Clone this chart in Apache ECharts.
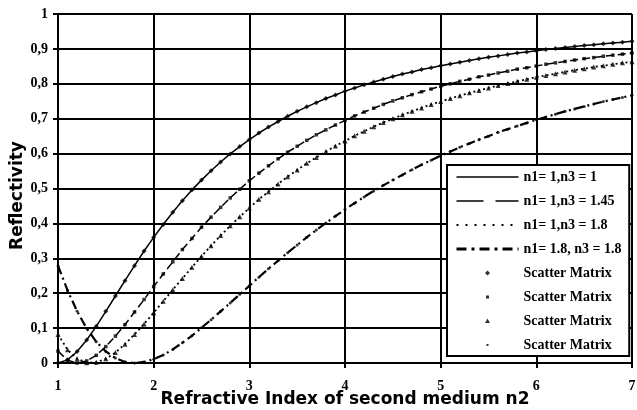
<!DOCTYPE html>
<html><head><meta charset="utf-8">
<script src="https://cdn.jsdelivr.net/npm/echarts/dist/echarts.min.js"></script>
<style>html,body{margin:0;padding:0;background:#fff}#c{width:637px;height:410px}</style>
</head><body><div id="c"></div>
<script>
// Refractive index of second medium (x)
const n2 = [1.0,1.1,1.2,1.3,1.4,1.5,1.6,1.7,1.8,1.9,
  2.0,2.1,2.2,2.3,2.4,2.5,2.6,2.7,2.8,2.9,
  3.0,3.1,3.2,3.3,3.4,3.5,3.6,3.7,3.8,3.9,
  4.0,4.1,4.2,4.3,4.4,4.5,4.6,4.7,4.8,4.9,
  5.0,5.1,5.2,5.3,5.4,5.5,5.6,5.7,5.8,5.9,
  6.0,6.1,6.2,6.3,6.4,6.5,6.6,6.7,6.8,6.9,7.0];
// Reflectivity, n1=1, n3=1
const rA = [0,0.009,0.033,0.066,0.105,0.148,0.192,0.236,0.279,0.321,
  0.360,0.397,0.432,0.465,0.496,0.524,0.551,0.576,0.599,0.620,
  0.640,0.659,0.676,0.692,0.707,0.721,0.734,0.746,0.758,0.768,
  0.779,0.788,0.797,0.805,0.813,0.821,0.828,0.834,0.841,0.846,
  0.852,0.857,0.862,0.867,0.872,0.876,0.880,0.884,0.888,0.891,
  0.895,0.898,0.901,0.904,0.907,0.910,0.912,0.915,0.917,0.919,0.922];
// n1=1, n3=1.45
const rB = [0.034,0.008,0.000,0.006,0.022,0.047,0.077,0.110,0.146,0.182,
  0.219,0.255,0.290,0.325,0.357,0.389,0.418,0.446,0.473,0.498,
  0.522,0.544,0.565,0.585,0.604,0.621,0.638,0.654,0.668,0.682,
  0.695,0.708,0.719,0.730,0.741,0.751,0.760,0.769,0.777,0.785,
  0.793,0.800,0.807,0.813,0.820,0.825,0.831,0.836,0.842,0.846,
  0.851,0.856,0.860,0.864,0.868,0.872,0.875,0.879,0.882,0.885,0.888];
// n1=1, n3=1.8
const rC = [0.082,0.038,0.012,0.001,0.002,0.012,0.030,0.054,0.082,0.112,
  0.144,0.177,0.210,0.242,0.274,0.306,0.336,0.365,0.393,0.419,
  0.444,0.469,0.491,0.513,0.534,0.553,0.572,0.589,0.606,0.622,
  0.636,0.651,0.664,0.677,0.689,0.700,0.711,0.721,0.731,0.741,
  0.749,0.758,0.766,0.774,0.781,0.788,0.795,0.801,0.807,0.813,
  0.819,0.824,0.829,0.834,0.839,0.843,0.848,0.852,0.856,0.860,0.863];
// n1=1.8, n3=1.8
const rD = [0.279,0.208,0.148,0.099,0.061,0.033,0.014,0.003,0.000,0.003,
  0.011,0.023,0.039,0.058,0.078,0.101,0.124,0.148,0.172,0.197,
  0.221,0.246,0.270,0.293,0.316,0.338,0.360,0.381,0.401,0.421,
  0.440,0.458,0.476,0.493,0.509,0.524,0.539,0.554,0.568,0.581,
  0.594,0.606,0.618,0.629,0.640,0.650,0.661,0.670,0.679,0.688,
  0.697,0.705,0.713,0.721,0.728,0.735,0.742,0.749,0.755,0.761,0.767];

const lineNames = ['n1= 1,n3 = 1','n1= 1,n3 = 1.45','n1= 1,n3 = 1.8','n1= 1.8, n3 = 1.8'];
const scatterNames = ['Scatter Matrix','Scatter Matrix ','Scatter Matrix  ','Scatter Matrix   '];
const xTitle = 'Refractive Index of second medium n2';
const yTitle = 'Reflectivity';

const curves = [rA, rB, rC, rD];
const pts = arr => n2.map((x, i) => [x, arr[i]]);

const lineStyles = [
  {type:'solid', width:1.5},
  {type:[8,4], width:1.5},
  {type:[2,3], width:1.8},
  {type:[9,4,2,4], width:2.2}
];
const legendLineStyles = [
  {type:'solid', width:1.5},
  {type:[27,12], width:1.5},
  {type:[2,7], width:2},
  {type:[10,5,3,5], width:3}
];
const markerSymbols = ['diamond','rect','triangle','circle'];
const markerSizes = [5,3.5,5,3];
const legendIcons = [
  'path://M0,0M14,14M7,4.5L9.5,7L7,9.5L4.5,7Z',
  'path://M0,0M14,14M5.5,5.5L8.5,5.5L8.5,8.5L5.5,8.5Z',
  'path://M0,0M14,14M7,4.5L9.5,9L4.5,9Z',
  'path://M0,0M14,14M6,6L8,6L8,8L6,8Z'
];

const series = [];
curves.forEach((c, i) => {
  series.push({
    name: lineNames[i], type:'line', data: pts(c), symbol:'none',
    lineStyle: Object.assign({color:'#000'}, lineStyles[i]), itemStyle:{color:'#000'},
    z: 3
  });
});
curves.forEach((c, i) => {
  series.push({
    name: scatterNames[i], type:'scatter', data: pts(c),
    symbol: markerSymbols[i], symbolSize: markerSizes[i],
    itemStyle:{color:'#000'}, z: 4
  });
});

const legendData = [];
lineNames.forEach((nm, i) => legendData.push({name:nm, lineStyle: legendLineStyles[i], itemStyle:{opacity:0}}));
scatterNames.forEach((nm, i) => legendData.push({name:nm, icon: legendIcons[i]}));

const fmt = v => {
  if (Math.abs(v) < 1e-9) return '0';
  if (Math.abs(v - 1) < 1e-9) return '1';
  return (Math.round(v * 10) / 10).toFixed(1).replace('.', ',');
};

const axisCommon = {
  nameMoveOverlap:false,
  axisLine:{show:true, onZero:false, lineStyle:{color:'#000', width:2}},
  axisTick:{show:true, inside:false, length:5, lineStyle:{color:'#000', width:2}},
  splitLine:{show:true, lineStyle:{color:'#000', width:2}}
};

const chart = echarts.init(document.getElementById('c'), null, {renderer:'canvas'});
chart.setOption({
  animation:false,
  backgroundColor:'#fff',
  grid:{left:58, right:5, top:14, bottom:47, containLabel:false, outerBoundsMode:'none'},
  xAxis: Object.assign({
    type:'value', min:1, max:7, interval:1,
    name: xTitle, nameLocation:'middle', nameGap:28,
    nameTextStyle:{fontFamily:'DejaVu Sans', fontWeight:'bold', fontSize:17, color:'#000'},
    axisLabel:{margin:16, fontFamily:'Liberation Serif', fontSize:14, fontWeight:'bold', color:'#000'}
  }, axisCommon),
  yAxis: Object.assign({
    type:'value', min:0, max:1, interval:0.1,
    name: yTitle, nameLocation:'middle', nameGap:32,
    nameTextStyle:{fontFamily:'DejaVu Sans', fontWeight:'bold', fontSize:17, color:'#000', padding:[0,14,0,0]},
    axisLabel:{margin:10, fontFamily:'Liberation Serif', fontSize:14, fontWeight:'bold', color:'#000', formatter: fmt}
  }, axisCommon),
  legend:{
    left:447, top:165, orient:'vertical', align:'left',
    itemWidth:62, itemHeight:14, itemGap:10,
    padding:[5,7,4,8],
    borderColor:'#000', borderWidth:2, backgroundColor:'#fff',
    selectedMode:false,
    textStyle:{fontFamily:'Liberation Serif', fontSize:14, fontWeight:'bold', color:'#000', lineHeight:14},
    data: legendData
  },
  series: series
});
</script>
</body></html>
